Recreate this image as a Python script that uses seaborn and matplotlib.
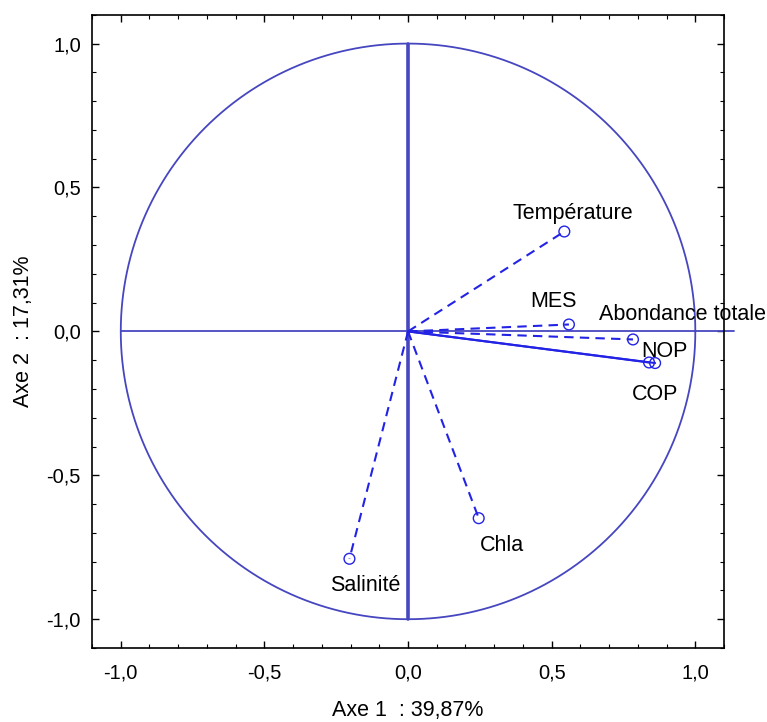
import numpy as np
import pandas as pd
import matplotlib
matplotlib.use("Agg")
import matplotlib.pyplot as plt
import seaborn as sns
from matplotlib.ticker import FuncFormatter, MultipleLocator

sns.set_theme(style="white")
plt.rcParams['font.family'] = ['Liberation Sans', 'DejaVu Sans']
plt.rcParams['text.color'] = 'black'
plt.rcParams['axes.labelcolor'] = 'black'

variables = ["Température", "MES", "Abondance totale", "NOP", "COP", "Chla", "Salinité"]
axe1 = [0.544, 0.560, 0.783, 0.839, 0.860, 0.246, -0.204]
axe2 = [0.347, 0.024, -0.028, -0.108, -0.110, -0.649, -0.790]
line_style = ["dashed", "dashed", "dashed", "solid", "solid", "dashed", "dashed"]
label_x = [0.573, 0.506, 0.957, 0.894, 0.860, 0.326, -0.149]
label_y = [0.410, 0.104, 0.059, -0.069, -0.219, -0.743, -0.882]

df = pd.DataFrame({"var": variables, "x": axe1, "y": axe2})

fig = plt.figure(figsize=(7.67, 7.22), dpi=100)
ax = fig.add_axes([0.12, 0.1025, 0.824, 0.877])

circ_col = "#4646c0"
line_col = "#2323e6"

t = np.linspace(0, 2 * np.pi, 721)
ax.plot(np.cos(t), np.sin(t), color=circ_col, lw=1.3, zorder=2)
ax.plot([0, 0], [-1, 1], color=circ_col, lw=2.6, zorder=2)
ax.plot([-1, 1.135], [0, 0], color=circ_col, lw=1.3, zorder=2, clip_on=False)

for xi, yi, ls in zip(axe1, axe2, line_style):
    ax.plot([0, xi], [0, yi], color=line_col, lw=1.5,
            linestyle=(0, (4.5, 3)) if ls == "dashed" else "-", zorder=3)

sns.scatterplot(data=df, x="x", y="y", ax=ax, marker="o", s=60,
                facecolor="none", edgecolor=line_col, linewidth=1.0, zorder=4, legend=False)

for name, lx, ly in zip(variables, label_x, label_y):
    ax.text(lx, ly, name, ha="center", va="center", fontsize=15.5, color="black",
            clip_on=False, zorder=5)

ax.set_xlim(-1.1, 1.1)
ax.set_ylim(-1.1, 1.1)
ax.xaxis.set_major_locator(MultipleLocator(0.5))
ax.yaxis.set_major_locator(MultipleLocator(0.5))
ax.xaxis.set_minor_locator(MultipleLocator(0.1))
ax.yaxis.set_minor_locator(MultipleLocator(0.1))
fmt = FuncFormatter(lambda v, p: f"{v:.1f}".replace(".", ",") if abs(v) > 1e-9 else "0,0")
ax.xaxis.set_major_formatter(fmt)
ax.yaxis.set_major_formatter(fmt)
ax.tick_params(which="both", direction="in", top=True, right=True, bottom=True, left=True,
               colors="black", labelcolor="black", labelsize=14.5)
ax.tick_params(which="major", length=5, width=1)
ax.tick_params(which="minor", length=3, width=0.8)
ax.tick_params(axis="x", pad=11)
ax.tick_params(axis="y", pad=8)
for s in ax.spines.values():
    s.set_color("black")
    s.set_linewidth(1.2)

ax.set_xlabel("Axe 1  : 39,87%", fontsize=15.5, labelpad=13, color="black")
ax.set_ylabel("Axe 2  : 17,31%", fontsize=15.5, labelpad=9, color="black")
ax.grid(False)

fig.savefig("out.png", dpi=100)
